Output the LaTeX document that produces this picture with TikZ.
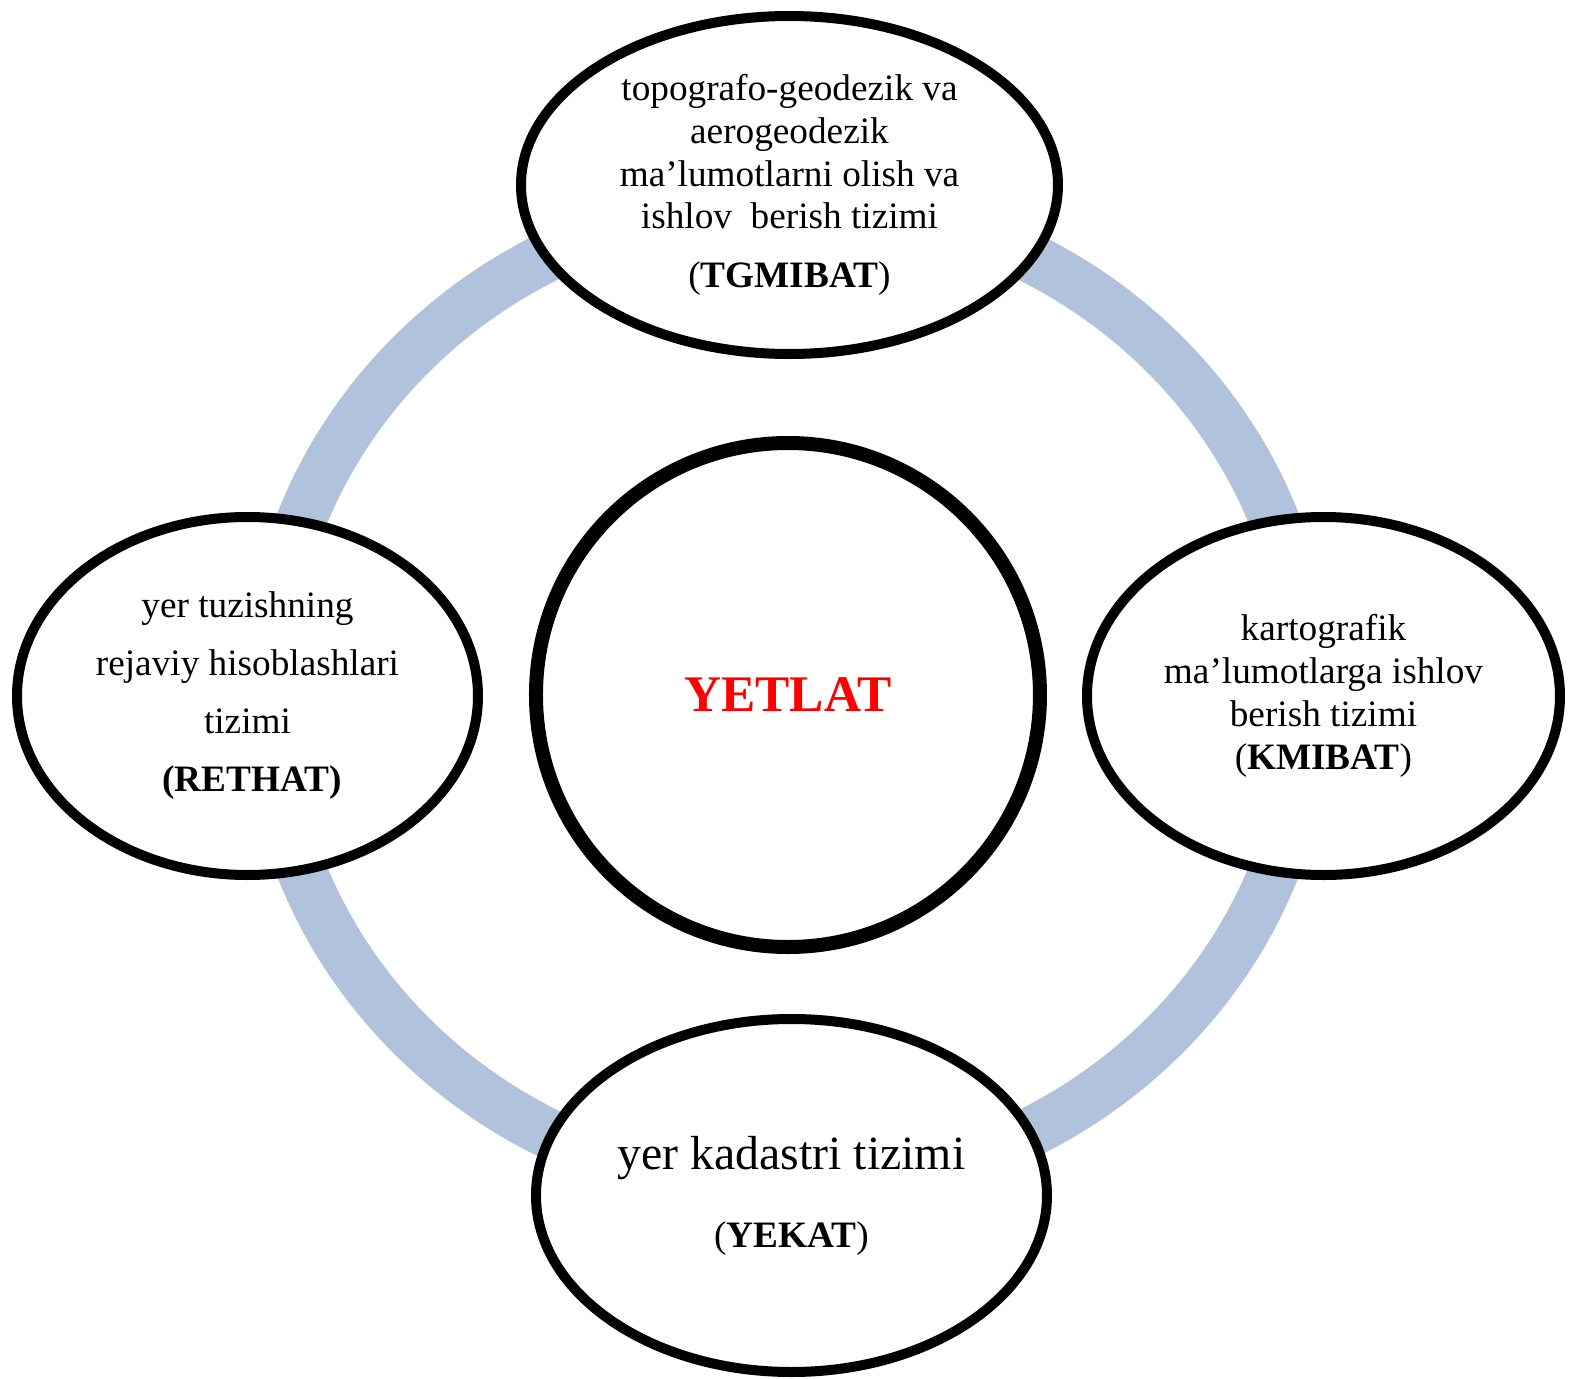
\documentclass[tikz,border=0pt]{standalone}
\usepackage{fontspec}
\setmainfont{Liberation Serif}
\usepackage{xcolor}
\usetikzlibrary{shapes.geometric,positioning}
\definecolor{ringblue}{RGB}{176,194,220}

\begin{document}
\begin{tikzpicture}[
    sysnode/.style={ellipse, draw, line width=0.1cm, fill=white, inner sep=0pt, align=center, font=\fontsize{10.6}{12.2}\selectfont},
    corenode/.style={circle, draw, line width=0.14cm, fill=white, inner sep=0pt, minimum size=5.04cm, text=red, font=\fontsize{14.6}{17}\selectfont\bfseries},
    ring/.style={draw=ringblue, line width=0.5cm}
]
    \useasboundingbox (-7.88,-6.84) rectangle (7.81,6.95);
    \draw[ring] (0,0) ellipse [x radius=5.2, y radius=4.94];

    \node[corenode] (yetlat) at (0,0) {YETLAT};

    \node[sysnode, minimum width=5.37cm, minimum height=3.38cm] (tgmibat) at (0.015,5.1)
        {topografo-geodezik va\\ aerogeodezik\\ ma’lumotlarni olish va\\ ishlov\ \ berish tizimi\\[4.6pt] (\textbf{TGMIBAT})};
    \node[sysnode, minimum width=4.61cm, minimum height=3.58cm, font=\fontsize{10.6}{16.5}\selectfont] (rethat) at (-5.405,-0.01)
        {yer tuzishning\\ rejaviy hisoblashlari\\ tizimi\\ \ \textbf{(RETHAT)}};
    \node[sysnode, minimum width=4.73cm, minimum height=3.58cm] (kmibat) at (5.355,-0.01)
        {kartografik\\ ma’lumotlarga ishlov\\ berish tizimi\\ (\textbf{KMIBAT})};
    \node[sysnode, minimum width=5.11cm, minimum height=3.53cm] (yekat) at (0.035,-5.005)
        {{\fontsize{13.6}{16}\selectfont yer kadastri tizimi}\\[10pt] (\textbf{YEKAT})};
\end{tikzpicture}
\end{document}
